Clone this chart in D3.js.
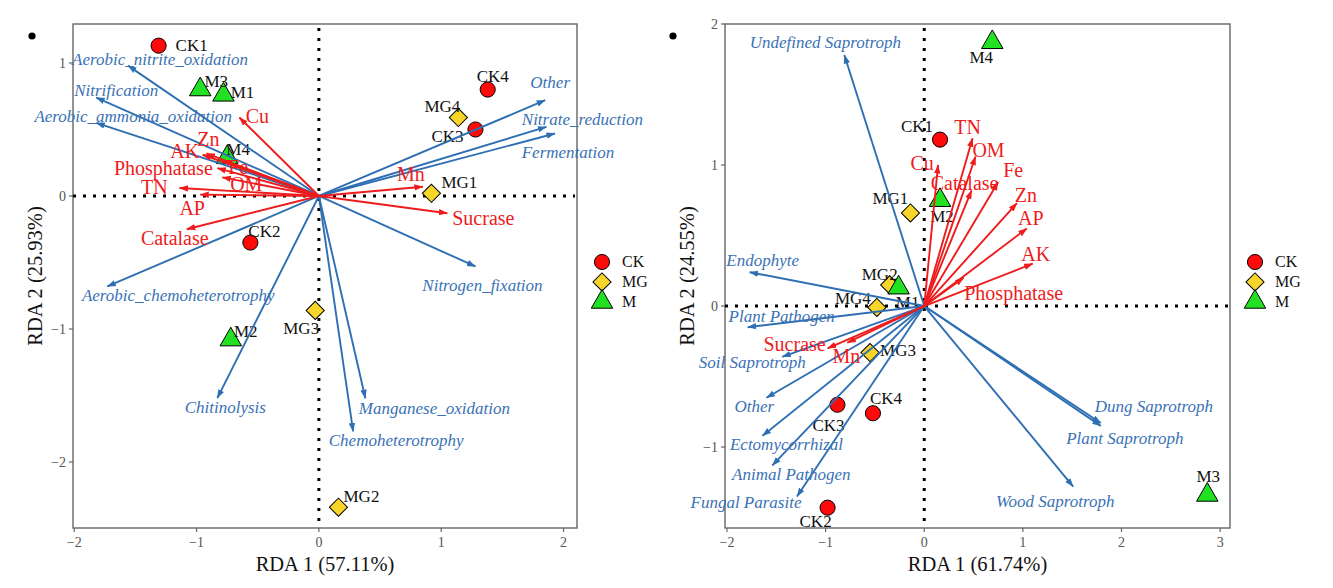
<!DOCTYPE html>
<html lang="en">
<head>
<meta charset="utf-8">
<title>RDA biplots</title>
<script src="https://d3js.org/d3.v7.min.js"></script>
<style>
  body { margin: 0; background: #fff; }
  svg { display: block; font-family: "Liberation Serif", "Times New Roman", serif; }
  .tick-label { fill: #555; font-size: 14px; }
  .axis-title { fill: #111; font-size: 20.5px; }
  .site-label { fill: #111; font-size: 17px; }
  .func-label { fill: #3a72b5; font-size: 17px; font-style: italic; }
  .env-label { fill: #ee1c1c; font-size: 20px; }
  .legend-text { fill: #111; font-size: 16px; }
</style>
</head>
<body>
<svg id="chart" width="1333" height="588"></svg>
<script>
// ---- data: left panel (bacterial functions) ----
var leftSites = [
  { name: "CK1", group: "CK", x: -1.31, y: 1.13 },
  { name: "CK2", group: "CK", x: -0.56, y: -0.35 },
  { name: "CK3", group: "CK", x: 1.28, y: 0.50 },
  { name: "CK4", group: "CK", x: 1.38, y: 0.80 },
  { name: "MG1", group: "MG", x: 0.92, y: 0.02 },
  { name: "MG2", group: "MG", x: 0.16, y: -2.34 },
  { name: "MG3", group: "MG", x: -0.03, y: -0.86 },
  { name: "MG4", group: "MG", x: 1.14, y: 0.59 },
  { name: "M1", group: "M", x: -0.78, y: 0.76 },
  { name: "M2", group: "M", x: -0.72, y: -1.08 },
  { name: "M3", group: "M", x: -0.97, y: 0.80 },
  { name: "M4", group: "M", x: -0.75, y: 0.29 }
];
var leftFunctions = [
  { name: "Aerobic_nitrite_oxidation", x: -1.56, y: 0.98 },
  { name: "Nitrification", x: -1.82, y: 0.74 },
  { name: "Aerobic_ammonia_oxidation", x: -1.82, y: 0.55 },
  { name: "Aerobic_chemoheterotrophy", x: -1.73, y: -0.68 },
  { name: "Chitinolysis", x: -0.83, y: -1.52 },
  { name: "Manganese_oxidation", x: 0.38, y: -1.52 },
  { name: "Chemoheterotrophy", x: 0.28, y: -1.77 },
  { name: "Nitrogen_fixation", x: 1.28, y: -0.53 },
  { name: "Other", x: 1.85, y: 0.72 },
  { name: "Nitrate_reduction", x: 1.86, y: 0.52 },
  { name: "Fermentation", x: 1.93, y: 0.47 }
];
var leftEnv = [
  { name: "Cu", x: -0.65, y: 0.59 },
  { name: "Zn", x: -0.92, y: 0.32 },
  { name: "AK", x: -0.95, y: 0.31 },
  { name: "Fe", x: -0.79, y: 0.27 },
  { name: "Phosphatase", x: -0.83, y: 0.21 },
  { name: "OM", x: -0.79, y: 0.14 },
  { name: "TN", x: -1.14, y: 0.06 },
  { name: "AP", x: -0.97, y: 0.01 },
  { name: "Catalase", x: -1.08, y: -0.25 },
  { name: "Mn", x: 0.85, y: 0.07 },
  { name: "Sucrase", x: 1.05, y: -0.13 }
];
var leftXTicks = [-2, -1, 0, 1, 2];
var leftYTicks = [-2, -1, 0, 1];
var leftTitles = ["RDA 1 (57.11%)", "RDA 2 (25.93%)"];

// ---- data: right panel (fungal guilds) ----
var rightSites = [
  { name: "CK1", group: "CK", x: 0.16, y: 1.18 },
  { name: "CK2", group: "CK", x: -0.98, y: -1.43 },
  { name: "CK3", group: "CK", x: -0.88, y: -0.70 },
  { name: "CK4", group: "CK", x: -0.52, y: -0.76 },
  { name: "MG1", group: "MG", x: -0.14, y: 0.66 },
  { name: "MG2", group: "MG", x: -0.35, y: 0.15 },
  { name: "MG3", group: "MG", x: -0.55, y: -0.33 },
  { name: "MG4", group: "MG", x: -0.48, y: -0.01 },
  { name: "M1", group: "M", x: -0.26, y: 0.13 },
  { name: "M2", group: "M", x: 0.16, y: 0.75 },
  { name: "M3", group: "M", x: 2.87, y: -1.34 },
  { name: "M4", group: "M", x: 0.69, y: 1.87 }
];
var rightFunctions = [
  { name: "Undefined Saprotroph", x: -0.81, y: 1.78 },
  { name: "Endophyte", x: -1.77, y: 0.24 },
  { name: "Plant Pathogen", x: -1.79, y: -0.15 },
  { name: "Soil Saprotroph", x: -1.44, y: -0.36 },
  { name: "Other", x: -1.60, y: -0.65 },
  { name: "Ectomycorrhizal", x: -1.64, y: -0.92 },
  { name: "Animal Pathogen", x: -1.54, y: -1.13 },
  { name: "Fungal Parasite", x: -1.29, y: -1.35 },
  { name: "Dung Saprotroph", x: 1.79, y: -0.83 },
  { name: "Plant Saprotroph", x: 1.79, y: -0.85 },
  { name: "Wood Saprotroph", x: 1.51, y: -1.28 }
];
var rightEnv = [
  { name: "TN", x: 0.49, y: 1.19 },
  { name: "OM", x: 0.52, y: 1.06 },
  { name: "Cu", x: 0.14, y: 1.00 },
  { name: "Catalase", x: 0.48, y: 0.82 },
  { name: "Fe", x: 0.75, y: 0.88 },
  { name: "Zn", x: 0.94, y: 0.73 },
  { name: "AP", x: 1.04, y: 0.55 },
  { name: "AK", x: 1.10, y: 0.30 },
  { name: "Phosphatase", x: 0.40, y: 0.20 },
  { name: "Sucrase", x: -0.98, y: -0.30 },
  { name: "Mn", x: -0.78, y: -0.26 }
];
var rightXTicks = [-2, -1, 0, 1, 2, 3];
var rightYTicks = [-1, 0, 1, 2];
var rightTitles = ["RDA 1 (61.74%)", "RDA 2 (24.55%)"];

var groups = ["CK", "MG", "M"];

// label nudges in px (layout only)
var leftSiteNudge = { CK1: [33, -1], CK2: [14, -12], CK3: [-28, 7], CK4: [5, -14], MG1: [28, -11], MG2: [23, -11],
  MG3: [-14, 18], MG4: [-16, -12], M1: [19, -3], M2: [15, -9], M3: [16, -9], M4: [11, -8] };
var leftFuncNudge = { "Aerobic_nitrite_oxidation": [32, -7], "Nitrification": [20, -8], "Aerobic_ammonia_oxidation": [37, -7],
  "Aerobic_chemoheterotrophy": [71, 9], "Chitinolysis": [8, 9], "Manganese_oxidation": [69, 10], "Chemoheterotrophy": [43, 9],
  "Nitrogen_fixation": [7, 19], "Other": [5, -18], "Nitrate_reduction": [36, -8], "Fermentation": [13, 19] };
var leftEnvNudge = { Cu: [18, -2], Zn: [2, -14], AK: [-18, -4], Fe: [16, 7], Phosphatase: [-54, 0], OM: [24, 7],
  TN: [-25, -1], AP: [-8, 13], Catalase: [-12, 9], Mn: [-12, -13], Sucrase: [36, 5] };
var rightSiteNudge = { CK1: [-23, -14], CK2: [-12, 13], CK3: [-9, 20], CK4: [13, -15], MG1: [-20, -15], MG2: [-10, -11],
  MG3: [28, -3], MG4: [-24, -9], M1: [9, 14], M2: [2, 16], M3: [1, -19], M4: [-11, 15] };
var rightFuncNudge = { "Undefined Saprotroph": [-19, -13], "Endophyte": [13, -12], "Plant Pathogen": [34, -11],
  "Soil Saprotroph": [-30, 5], "Other": [-12, 8], "Ectomycorrhizal": [24, 8], "Animal Pathogen": [19, 9],
  "Fungal Parasite": [-51, 6], "Dung Saprotroph": [53, -17], "Plant Saprotroph": [24, 12], "Wood Saprotroph": [-18, 14] };
var rightEnvNudge = { TN: [-5, -11], OM: [13, -7], Cu: [-16, -2], Catalase: [-7, -7], Fe: [15, -12], Zn: [9, -8],
  AP: [4, -10], AK: [3, -10], Phosphatase: [50, 15], Sucrase: [-33, -4], Mn: [-1, 13] };

var svg = d3.select("#chart");
var BLUE = "#2e6fb3", RED = "#ee1c1c";
var fills = { CK: "#ff0a0a", MG: "#f7d52a", M: "#22e022" };
var shapes = {
  CK: d3.symbol().type(d3.symbolCircle).size(180),
  MG: d3.symbol().type(d3.symbolSquare).size(165),
  M: d3.symbol().type(d3.symbolTriangle).size(200)
};

var defs = svg.append("defs");
[["headBlue", BLUE], ["headRed", RED]].forEach(function(m) {
  defs.append("marker")
    .attr("id", m[0])
    .attr("viewBox", "0 -4 9 8")
    .attr("refX", 8.5).attr("refY", 0)
    .attr("markerUnits", "userSpaceOnUse")
    .attr("markerWidth", 9).attr("markerHeight", 8)
    .attr("orient", "auto")
    .append("path").attr("d", "M0,-3.2L9,0L0,3.2Z").attr("fill", m[1]);
});

function drawPoint(sel, group) {
  sel.attr("d", shapes[group]())
    .attr("fill", fills[group])
    .attr("stroke", "#000").attr("stroke-width", 1);
  if (group == "MG") sel.attr("transform", sel.attr("transform") + " rotate(45)");
}

function drawPanel(cfg) {
  var x = d3.scaleLinear().domain(cfg.xDomain).range([cfg.left, cfg.right]);
  var y = d3.scaleLinear().domain(cfg.yDomain).range([cfg.bottom, cfg.top]);
  var g = svg.append("g");

  // frame
  g.append("rect")
    .attr("x", cfg.left).attr("y", cfg.top)
    .attr("width", cfg.right - cfg.left).attr("height", cfg.bottom - cfg.top)
    .attr("fill", "none").attr("stroke", "#666").attr("stroke-width", 1.4);

  // ticks
  cfg.xTicks.forEach(function(t) {
    g.append("line").attr("x1", x(t)).attr("x2", x(t)).attr("y1", cfg.bottom).attr("y2", cfg.bottom + 4)
      .attr("stroke", "#666").attr("stroke-width", 1.2);
    g.append("text").attr("class", "tick-label").attr("x", x(t)).attr("y", cfg.bottom + 19)
      .attr("text-anchor", "middle").text(t < 0 ? "\u2212" + Math.abs(t) : t);
  });
  cfg.yTicks.forEach(function(t) {
    g.append("line").attr("x1", cfg.left - 4).attr("x2", cfg.left).attr("y1", y(t)).attr("y2", y(t))
      .attr("stroke", "#666").attr("stroke-width", 1.2);
    g.append("text").attr("class", "tick-label").attr("x", cfg.left - 7).attr("y", y(t) + 5)
      .attr("text-anchor", "end").text(t < 0 ? "\u2212" + Math.abs(t) : t);
  });

  // axis titles
  g.append("text").attr("class", "axis-title")
    .attr("x", (cfg.left + cfg.right) / 2).attr("y", 571)
    .attr("text-anchor", "middle").text(cfg.titles[0]);
  g.append("text").attr("class", "axis-title")
    .attr("transform", "translate(" + cfg.yTitleX + "," + ((cfg.top + cfg.bottom) / 2) + ") rotate(-90)")
    .attr("text-anchor", "middle").text(cfg.titles[1]);

  // zero lines
  g.append("line").attr("x1", x(0)).attr("x2", x(0)).attr("y1", cfg.top + 4).attr("y2", cfg.bottom)
    .attr("stroke", "#000").attr("stroke-width", 3).attr("stroke-dasharray", "3,7");
  g.append("line").attr("x1", cfg.left).attr("x2", cfg.right - 2).attr("y1", y(0)).attr("y2", y(0))
    .attr("stroke", "#000").attr("stroke-width", 3).attr("stroke-dasharray", "3,7");

  // sites
  g.selectAll(".site").data(cfg.sites).enter().append("path")
    .attr("class", "site")
    .attr("transform", function(d) { return "translate(" + x(d.x) + "," + y(d.y) + ")"; })
    .each(function(d) { drawPoint(d3.select(this), d.group); });
  g.selectAll(".site-label").data(cfg.sites).enter().append("text")
    .attr("class", "site-label")
    .attr("x", function(d) { return x(d.x) + cfg.siteNudge[d.name][0]; })
    .attr("y", function(d) { return y(d.y) + cfg.siteNudge[d.name][1] + 6; })
    .attr("text-anchor", "middle").text(function(d) { return d.name; });

  // function arrows
  g.selectAll(".func").data(cfg.funcs).enter().append("line")
    .attr("x1", x(0)).attr("y1", y(0))
    .attr("x2", function(d) { return x(d.x); }).attr("y2", function(d) { return y(d.y); })
    .attr("stroke", BLUE).attr("stroke-width", 1.9).attr("marker-end", "url(#headBlue)");
  // environment arrows
  g.selectAll(".env").data(cfg.env).enter().append("line")
    .attr("x1", x(0)).attr("y1", y(0))
    .attr("x2", function(d) { return x(d.x); }).attr("y2", function(d) { return y(d.y); })
    .attr("stroke", RED).attr("stroke-width", 1.9).attr("marker-end", "url(#headRed)");

  g.selectAll(".func-label").data(cfg.funcs).enter().append("text")
    .attr("class", "func-label")
    .attr("x", function(d) { return x(d.x) + cfg.funcNudge[d.name][0]; })
    .attr("y", function(d) { return y(d.y) + cfg.funcNudge[d.name][1] + 6; })
    .attr("text-anchor", "middle").text(function(d) { return d.name; });
  g.selectAll(".env-label").data(cfg.env).enter().append("text")
    .attr("class", "env-label")
    .attr("x", function(d) { return x(d.x) + cfg.envNudge[d.name][0]; })
    .attr("y", function(d) { return y(d.y) + cfg.envNudge[d.name][1] + 7; })
    .attr("text-anchor", "middle").text(function(d) { return d.name; });

  // legend
  groups.forEach(function(grp, i) {
    var ly = cfg.legendY + i * 20;
    var p = g.append("path").attr("transform", "translate(" + cfg.legendX + "," + ly + ")");
    drawPoint(p, grp);
    g.append("text").attr("class", "legend-text").attr("x", cfg.legendX + 20).attr("y", ly + 5).text(grp);
  });

  // panel bullet
  g.append("circle").attr("cx", cfg.bulletX).attr("cy", 36).attr("r", 3.6).attr("fill", "#000");
}

drawPanel({
  left: 73, right: 577, top: 24, bottom: 528,
  xDomain: [-2.01, 2.11], yDomain: [-2.496, 1.293],
  xTicks: leftXTicks, yTicks: leftYTicks, titles: leftTitles, yTitleX: 42,
  sites: leftSites, funcs: leftFunctions, env: leftEnv,
  siteNudge: leftSiteNudge, funcNudge: leftFuncNudge, envNudge: leftEnvNudge,
  legendX: 602, legendY: 262, bulletX: 32
});
drawPanel({
  left: 725, right: 1230, top: 24, bottom: 528,
  xDomain: [-2.02, 3.1], yDomain: [-1.574, 2.0],
  xTicks: rightXTicks, yTicks: rightYTicks, titles: rightTitles, yTitleX: 694,
  sites: rightSites, funcs: rightFunctions, env: rightEnv,
  siteNudge: rightSiteNudge, funcNudge: rightFuncNudge, envNudge: rightEnvNudge,
  legendX: 1255, legendY: 262, bulletX: 673
});
</script>
</body>
</html>
